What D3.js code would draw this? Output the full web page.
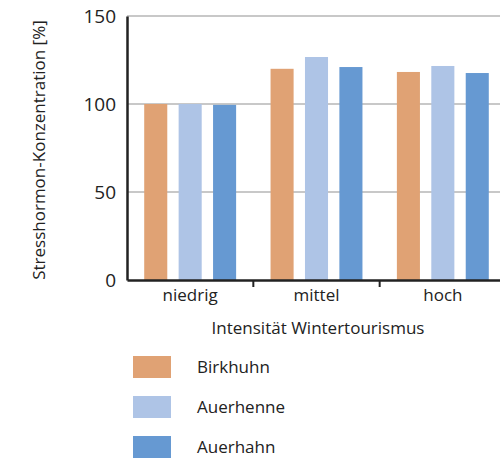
<!DOCTYPE html>
<html lang="de">
<head>
<meta charset="UTF-8">
<title>Stresshormon-Konzentration</title>
<style>
  body { margin: 0; background: #fff; }
  text { font-family: "Open Sans", "Noto Sans", sans-serif; fill: #222; }
</style>
</head>
<body>
<script src="https://d3js.org/d3.v7.min.js"></script>
<script>
    // data
    const categories = ["niedrig", "mittel", "hoch"];
    const seriesNames = ["Birkhuhn", "Auerhenne", "Auerhahn"];
    const birkhuhn = [100, 120, 118.2];
    const auerhenne = [100, 126.7, 121.6];
    const auerhahn = [99.5, 121, 117.6];
    const yTicks = [0, 50, 100, 150];
    const colors = ["#e0a274", "#aec4e6", "#6699d2"];

    const values = [birkhuhn, auerhenne, auerhahn];

    const svg = d3.select("body").append("svg")
        .attr("width", 500)
        .attr("height", 462);

    // plot area (runs off the right edge like the original)
    const plotLeft = 127, plotRight = 506, plotTop = 16, plotBottom = 280;

    const x = d3.scaleBand()
        .domain(categories)
        .range([plotLeft, plotRight]);
    const xs = d3.scaleBand()
        .domain(seriesNames)
        .range([0, x.bandwidth()])
        .paddingInner(0.33)
        .paddingOuter(0.5);
    const y = d3.scaleLinear()
        .domain([0, 150])
        .range([plotBottom, plotTop]);

    // gridlines
    svg.append("g")
        .selectAll("line")
        .data(yTicks.filter(d => d > 0))
        .join("line")
        .attr("x1", plotLeft)
        .attr("x2", 500)
        .attr("y1", d => y(d))
        .attr("y2", d => y(d))
        .attr("stroke", "#c8c8c8")
        .attr("stroke-width", 2);

    // bars
    const rows = [];
    categories.forEach((c, i) => {
        seriesNames.forEach((s, j) => rows.push({cat: c, s: s, v: values[j][i], j: j}));
    });
    svg.append("g")
        .selectAll("rect")
        .data(rows)
        .join("rect")
        .attr("x", d => x(d.cat) + xs(d.s))
        .attr("width", xs.bandwidth())
        .attr("y", d => y(d.v))
        .attr("height", d => y(0) - y(d.v))
        .attr("fill", d => colors[d.j]);

    // y axis
    const yAxis = svg.append("g")
        .attr("transform", "translate(" + plotLeft + ",0)")
        .call(d3.axisLeft(y).tickValues(yTicks).tickSize(0).tickPadding(11));
    yAxis.select(".domain").attr("stroke", "#222").attr("stroke-width", 2.5);
    yAxis.selectAll("text").style("font-size", "19px").attr("fill", "#222");

    // x axis
    const xAxis = svg.append("g")
        .attr("transform", "translate(0," + plotBottom + ")")
        .call(d3.axisBottom(x).tickSize(0).tickPadding(9));
    xAxis.select(".domain").attr("stroke", "#222").attr("stroke-width", 2.5);
    xAxis.selectAll("text").style("font-size", "17px").attr("fill", "#222");
    // separators between categories
    xAxis.selectAll(".sep")
        .data(categories.slice(1))
        .join("line")
        .attr("class", "sep")
        .attr("x1", d => x(d))
        .attr("x2", d => x(d))
        .attr("y1", 0)
        .attr("y2", 7)
        .attr("stroke", "#222")
        .attr("stroke-width", 2);

    // axis titles
    svg.append("text")
        .attr("x", 318)
        .attr("y", 334)
        .attr("text-anchor", "middle")
        .style("font-size", "17px")
        .text("Intensität Wintertourismus");
    svg.append("text")
        .attr("transform", "translate(45,150) rotate(-90)")
        .attr("text-anchor", "middle")
        .style("font-size", "17px")
        .text("Stresshormon-Konzentration [%]");

    // legend
    const legend = svg.append("g")
        .selectAll("g")
        .data(seriesNames)
        .join("g")
        .attr("transform", (d, i) => "translate(133," + (356 + i * 40) + ")");
    legend.append("rect")
        .attr("width", 38)
        .attr("height", 22)
        .attr("fill", (d, i) => colors[i]);
    legend.append("text")
        .attr("x", 64)
        .attr("y", 11)
        .attr("dy", "0.35em")
        .style("font-size", "17px")
        .text(d => d);
</script>
</body>
</html>
